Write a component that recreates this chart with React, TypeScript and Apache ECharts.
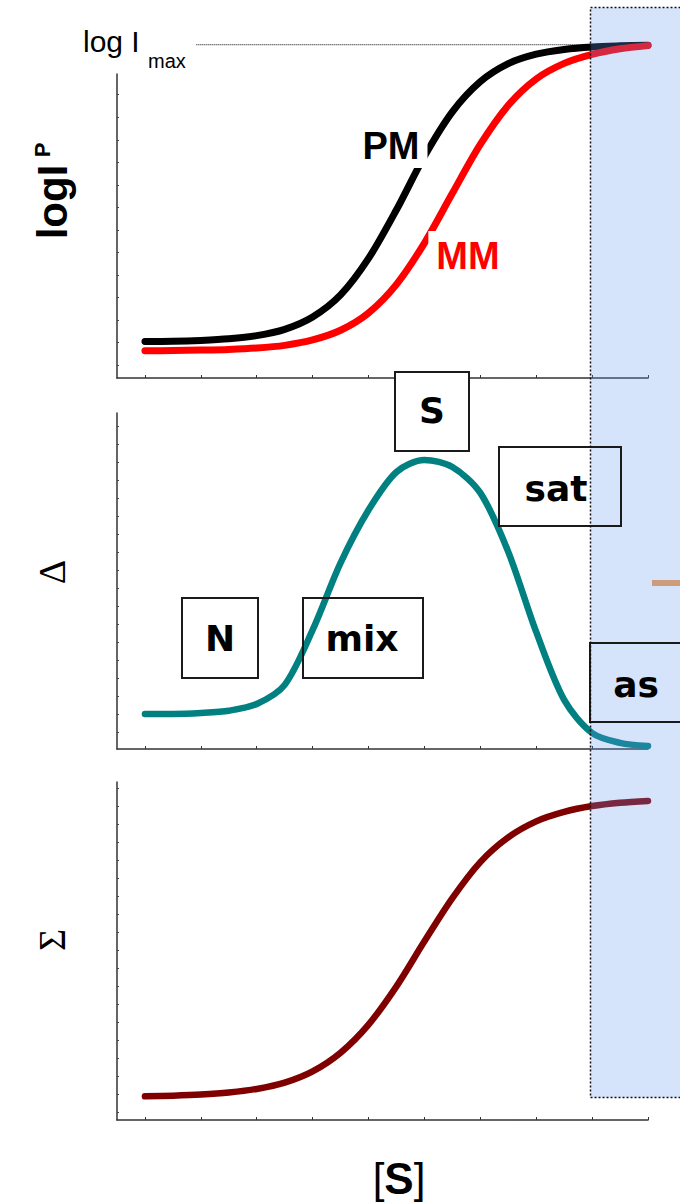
import React, { useEffect, useRef } from "react";
import * as echarts from "echarts";

// Substrate concentration positions (x axis units, one per tick)
const sPositions = [0, 0.5, 1, 1.5, 2, 2.5, 3, 3.5, 4, 4.5, 5, 5.5, 6, 6.5, 7, 7.5, 8, 8.5, 9];
const sTicks = [0, 1, 2, 3, 4, 5, 6, 7, 8, 9];

// Top panel: log intensity of perfect match / mismatch probes
const pmSignal = [1.62, 1.63, 1.67, 1.74, 1.88, 2.16, 2.71, 3.69, 5.31, 7.47, 9.85, 11.82, 13.16, 13.96, 14.38, 14.59, 14.7, 14.75, 14.78];
const mmSignal = [1.21, 1.22, 1.24, 1.27, 1.33, 1.45, 1.69, 2.12, 2.89, 4.16, 5.99, 8.2, 10.37, 12.11, 13.28, 13.97, 14.37, 14.62, 14.76];
const logImax = 14.8;
const imaxGuide = [0.92, 7.95];

// Middle panel: difference Δ
const deltaSignal = [1.56, 1.56, 1.6, 1.7, 2.0, 2.85, 5.29, 8.27, 10.62, 12.31, 12.84, 12.53, 11.38, 8.76, 5.2, 2.18, 0.71, 0.27, 0.13];

// Bottom panel: sum Σ
const sigmaSignal = [1.05, 1.08, 1.13, 1.22, 1.38, 1.66, 2.16, 2.99, 4.24, 5.94, 7.94, 9.86, 11.46, 12.56, 13.27, 13.69, 13.95, 14.1, 14.18];

// Regime labels
const regimeLabels = ["N", "mix", "S", "sat", "as"];

const yMax = [13.5, 14.93, 15.02];

const tickRun = (start: number, step: number, end: number) => {
  const out: number[] = [];
  for (let v = start; v <= end + 1e-6; v += step) out.push(+v.toFixed(3));
  return out;
};

const pairs = (ys: number[]) => sPositions.map((x, i) => [x, ys[i]]);

const SANS = '"Liberation Sans", Arial, sans-serif';
const SERIF = '"Liberation Serif", "DejaVu Serif", serif';
const LABEL_FONT = '"DejaVu Sans", sans-serif';

export default function App() {
  const ref = useRef<HTMLDivElement>(null);

  useEffect(() => {
    if (!ref.current) return;
    const chart = echarts.init(ref.current, null, { renderer: "svg" });

    const axisLine = { show: true, onZero: false, lineStyle: { color: "#333", width: 1.5 } };
    const grids = [
      { left: 117, right: 32, top: 74, height: 304 },
      { left: 117, right: 32, top: 413, height: 336 },
      { left: 117, right: 32, top: 782, height: 338 },
    ];
    const yTickSets = [tickRun(0.58, 1, 12.6), tickRun(0.76, 0.8, 14.6), tickRun(0.36, 0.8, 14.8)];

    const xAxis = grids.map((_, i) => ({
      type: "value",
      gridIndex: i,
      min: -0.5,
      max: 9,
      axisLine,
      axisTick: { show: true, inside: true, length: 3, lineStyle: { color: "#333" }, customValues: sTicks },
      axisLabel: { show: false },
      splitLine: { show: false },
    }));
    const yAxis = grids.map((_, i) => ({
      type: "value",
      gridIndex: i,
      min: 0,
      max: yMax[i],
      axisLine,
      axisTick: { show: true, inside: true, length: 2, lineStyle: { color: "#444" }, customValues: yTickSets[i] },
      axisLabel: { show: false },
      splitLine: { show: false },
    }));

    const line = (name: string, ys: number[], color: string, idx: number, width: number) => ({
      name,
      type: "line",
      xAxisIndex: idx,
      yAxisIndex: idx,
      data: pairs(ys),
      smooth: 0.3,
      showSymbol: false,
      clip: false,
      lineStyle: { color, width, cap: "round", join: "round" },
      z: 5,
    });

    // Regime box: white fill below the shaded region, outline and text above it
    const regimeBox = (label: string, x: number, y: number, w: number, h: number, fill: string, tx: number, ty: number) => [
      {
        type: "rect",
        z: 50,
        shape: { x, y, width: w, height: h },
        style: { fill, stroke: "none" },
      },
      {
        type: "rect",
        z: 210,
        shape: { x, y, width: w, height: h },
        style: { fill: "none", stroke: "#1a1a1a", lineWidth: 2 },
      },
      {
        type: "text",
        x: tx,
        y: ty,
        z: 211,
        style: {
          text: label,
          fill: "#000",
          font: `bold 36px ${LABEL_FONT}`,
          textAlign: "center",
          textVerticalAlign: "middle",
        },
      },
    ];

    chart.setOption({
      animation: false,
      backgroundColor: "#ffffff",
      grid: grids,
      xAxis,
      yAxis,
      series: [
        {
          name: "log Imax",
          type: "line",
          xAxisIndex: 0,
          yAxisIndex: 0,
          data: imaxGuide.map((x) => [x, logImax]),
          showSymbol: false,
          clip: false,
          lineStyle: { color: "#000", width: 1, type: [1, 1] },
          z: 3,
        },
        line("PM", pmSignal, "#000000", 0, 7),
        line("MM", mmSignal, "#ff0000", 0, 7),
        line("Δ", deltaSignal, "#008080", 1, 6.5),
        line("Σ", sigmaSignal, "#800000", 2, 6.5),
      ],
      graphic: [
        // Imax label
        {
          type: "text",
          x: 83,
          y: 41,
          z: 40,
          style: { text: "log I", fill: "#000", font: `30px ${SANS}`, textAlign: "left", textVerticalAlign: "middle" },
        },
        {
          type: "text",
          x: 148,
          y: 61,
          z: 40,
          style: { text: "max", fill: "#000", font: `20px ${SANS}`, textAlign: "left", textVerticalAlign: "middle" },
        },
        // Curve labels
        {
          type: "text",
          x: 392,
          y: 146,
          z: 40,
          style: {
            text: "PM",
            fill: "#000",
            font: `bold 38px ${SANS}`,
            textAlign: "center",
            textVerticalAlign: "middle",
            backgroundColor: "#fff",
            padding: [4, 8, 2, 6],
          },
        },
        {
          type: "text",
          x: 466,
          y: 256,
          z: 40,
          style: {
            text: "MM",
            fill: "#ff0000",
            font: `bold 38px ${SANS}`,
            textAlign: "center",
            textVerticalAlign: "middle",
            backgroundColor: "#fff",
            padding: [10, 4, 2, 8],
          },
        },
        // Y axis titles
        {
          type: "group",
          x: 52,
          y: 202,
          rotation: Math.PI / 2,
          z: 40,
          children: [
            {
              type: "text",
              x: 0,
              y: 0,
              style: { text: "logI", fill: "#000", font: `bold 42px ${SANS}`, textAlign: "center", textVerticalAlign: "middle" },
            },
            {
              type: "text",
              x: 52,
              y: -10,
              style: { text: "P", fill: "#000", font: `bold 22px ${SANS}`, textAlign: "center", textVerticalAlign: "middle" },
            },
          ],
        },
        {
          type: "text",
          x: 52,
          y: 572,
          rotation: Math.PI / 2,
          z: 40,
          style: { text: "Δ", fill: "#000", font: `38px ${SERIF}`, textAlign: "center", textVerticalAlign: "middle" },
        },
        {
          type: "text",
          x: 52,
          y: 940,
          rotation: Math.PI / 2,
          z: 40,
          style: { text: "Σ", fill: "#000", font: `38px ${SERIF}`, textAlign: "center", textVerticalAlign: "middle" },
        },
        // X axis title
        {
          type: "text",
          x: 399,
          y: 1178,
          z: 40,
          style: {
            text: "{b|[}{s|S}{b|]}",
            textAlign: "center",
            textVerticalAlign: "middle",
            rich: {
              b: { font: `42px ${SANS}`, fill: "#000" },
              s: { font: `bold 44px ${SANS}`, fill: "#000" },
            },
          },
        },
        // Regime boxes
        ...regimeBox(regimeLabels[0], 182, 598, 76, 80, "#fff", 220, 638),
        ...regimeBox(regimeLabels[1], 303, 598, 120, 80, "none", 362, 638),
        ...regimeBox(regimeLabels[2], 395, 372, 74, 79, "#fff", 432, 410),
        ...regimeBox(regimeLabels[3], 499, 447, 122, 79, "#fff", 556, 488),
        ...regimeBox(regimeLabels[4], 590, 643, 100, 79, "#fff", 636, 684),
        // short marker at the right edge
        {
          type: "line",
          z: 55,
          shape: { x1: 652, y1: 583, x2: 682, y2: 583 },
          style: { stroke: "#f5a050", lineWidth: 6 },
        },
        // asymptotic region overlay
        {
          type: "rect",
          z: 200,
          shape: { x: 590.5, y: 7.5, width: 100, height: 1090 },
          style: {
            fill: "rgba(100,150,240,0.27)",
            stroke: "none",
          },
        },
        {
          type: "rect",
          z: 220,
          shape: { x: 590.5, y: 7.5, width: 100, height: 1090 },
          style: {
            fill: "none",
            stroke: "#111",
            lineWidth: 1.5,
            lineDash: [2, 2],
          },
        },
      ],
    });

    return () => chart.dispose();
  }, []);

  return (
    <div
      ref={ref}
      style={{ position: "fixed", left: 0, top: 0, width: 680, height: 1202, background: "#fff" }}
    />
  );
}
